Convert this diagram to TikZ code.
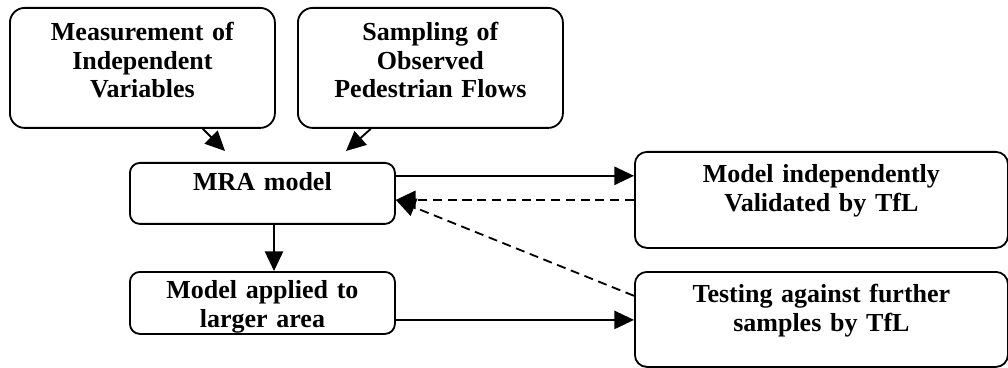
\documentclass[tikz,border=0pt]{standalone}
\usepackage{fontspec}
\setmainfont{Liberation Serif}
\usetikzlibrary{arrows.meta, positioning, calc}
\tikzset{
    box/.style={draw, line width=1.3pt, rounded corners=0.3cm, anchor=north west,
        inner sep=0pt, align=center, font=\bfseries\fontsize{18.5}{20.1}\selectfont},
    boxsize/.style args={#1 #2 #3}{text width=#1, text height=#2, text depth=#3},
    link/.style={line width=1.3pt, -{Triangle[length=14pt, width=13pt]}},
    back/.style={link, dash pattern=on 6.5pt off 4pt}
}

\begin{document}
\begin{tikzpicture}
    \useasboundingbox (0,0) rectangle (25.2,9.175);
    % input boxes
    \node[box, rounded corners=0.37cm, boxsize={6.625cm 0.825cm 2.175cm}] (meas) at (0.225,9.0)
        {Measurement of\\Independent\\Variables};
    \node[box, rounded corners=0.37cm, boxsize={6.625cm 0.825cm 2.175cm}] (samp) at (7.425,9.0)
        {Sampling of\\Observed\\Pedestrian Flows};
    % model boxes
    \node[box, rounded corners=0.25cm, boxsize={6.625cm 0.7cm 0.825cm}] (mra) at (3.225,5.125)
        {MRA model};
    \node[box, rounded corners=0.25cm, boxsize={6.625cm 0.675cm 0.875cm}] (appl) at (3.225,2.4)
        {Model applied to\\larger area};
    % TfL boxes
    \node[box, boxsize={9.325cm 0.775cm 1.625cm}] (valid) at (15.85,5.4)
        {Model independently\\Validated by TfL};
    \node[box, boxsize={9.325cm 0.775cm 1.6cm}] (test) at (15.85,2.4)
        {Testing against further\\samples by TfL};
    \coordinate (tipA) at (5.625,5.4);
    \coordinate (tipB) at (8.65,5.4);
    \coordinate (ret) at (valid.west -| mra.east);
    % arrows
    \draw[link] ([xshift=1.51cm]meas.south) -- (tipA);
    \draw[link] ([xshift=-1.49cm]samp.south) -- (tipB);
    \draw[link] ([yshift=0.44cm]mra.east) -- ([yshift=0.44cm]mra.east -| valid.west);
    \draw[back] (valid.west) -- (ret);
    \draw[back] ([yshift=0.59cm]test.west) -- (ret);
    \draw[link] ([xshift=0.29cm]mra.south) -- ([xshift=0.29cm]mra.south |- appl.north);
    \draw[link] ([yshift=-0.425cm]appl.east) -- ([yshift=-0.425cm]appl.east -| test.west);
\end{tikzpicture}
\end{document}
